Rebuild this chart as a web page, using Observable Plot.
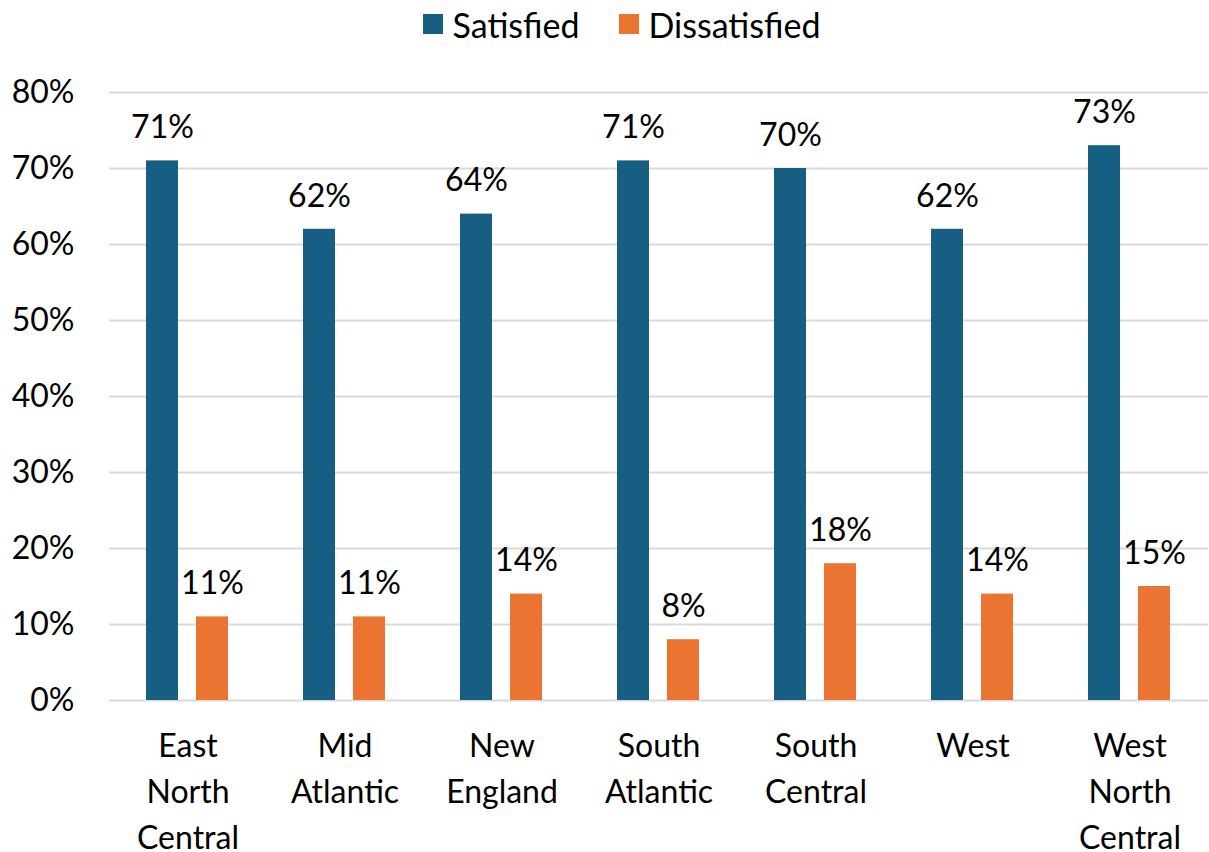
<!DOCTYPE html>
<html>
<head>
<meta charset="utf-8">
<script src="https://cdn.jsdelivr.net/npm/d3@7"></script>
<script src="https://cdn.jsdelivr.net/npm/@observablehq/plot@0.6"></script>
<style>
  body { margin: 0; background: #fff; font-family: Lato, "Open Sans", sans-serif; }
  #legend { height: 48px; display: flex; justify-content: center; align-items: center; font-size: 34px; color: #000; padding-left: 34px; }
  .item { display: flex; align-items: center; }
  .sw { width: 20px; height: 20px; margin-right: 10px; }
  .item + .item { margin-left: 39px; }
  svg { display: block; }
</style>
</head>
<body>
<div id="legend"></div>
<div id="chart"></div>
<script>
const regions = ["East North Central", "Mid Atlantic", "New England", "South Atlantic", "South Central", "West", "West North Central"];
const satisfied = [71, 62, 64, 71, 70, 62, 73];
const dissatisfied = [11, 11, 14, 8, 18, 14, 15];
const series = ["Satisfied", "Dissatisfied"];
const colors = ["#175F82", "#EB7433"];
const yTicks = [0, 10, 20, 30, 40, 50, 60, 70, 80];

const data = regions.flatMap((r, i) => [
  {region: r, series: series[0], value: satisfied[i]},
  {region: r, series: series[1], value: dissatisfied[i]}
]);

const legend = document.getElementById("legend");
series.forEach((s, i) => {
  const it = document.createElement("div");
  it.className = "item";
  it.innerHTML = `<div class="sw" style="background:${colors[i]}"></div><span>${s}</span>`;
  legend.appendChild(it);
});

const chart = Plot.plot({
  width: 1209,
  height: 804,
  marginTop: 44,
  marginBottom: 152,
  marginLeft: 108,
  marginRight: 0,
  style: {fontFamily: "Lato, 'Open Sans', sans-serif", fontSize: "32px", color: "#000", background: "#fff"},
  fx: {domain: regions, padding: 0, label: null, axis: null},
  x: {domain: series, paddingInner: 0.353, paddingOuter: 0.725, axis: null},
  y: {domain: [0, 80], axis: null},
  color: {domain: series, range: colors},
  marks: [
    Plot.ruleY(yTicks, {stroke: "#d9d9d9", strokeWidth: 2}),
    Plot.barY(data, {fx: "region", x: "series", y: "value", fill: "series"}),
    Plot.text(data, {fx: "region", x: "series", y: "value", text: d => d.value + "%", dy: -33, fill: "#000", fontSize: 32}),
    Plot.axisY(yTicks, {tickSize: 0, tickPadding: 35, tickFormat: d => d + "%", label: null, fontSize: 32}),
    Plot.axisFx({anchor: "bottom", tickSize: 0, tickPadding: 24, tickFormat: d => d.split(" ").join("\n"), lineHeight: 1.44, label: null, fontSize: 32})
  ]
});
document.getElementById("chart").appendChild(chart);
</script>
</body>
</html>
